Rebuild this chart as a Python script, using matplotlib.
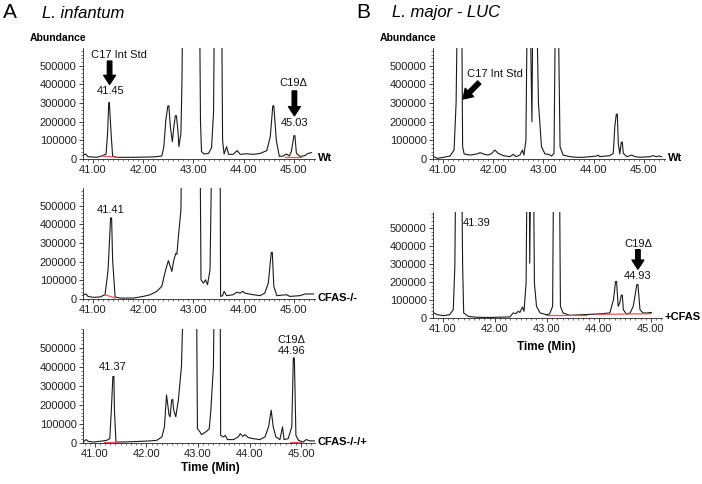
import matplotlib
matplotlib.use('Agg')
import matplotlib.pyplot as plt
from matplotlib.ticker import MultipleLocator, FormatStrFormatter

plt.rcParams['font.family'] = ['Liberation Sans', 'DejaVu Sans']

# --- data (time in min, abundance) ---
# off-scale peaks are given as 900000 and get clipped by the axes
inf_wt_t = [40.81, 40.85, 40.90, 41.07, 41.17, 41.26, 41.29, 41.31, 41.32, 41.33, 41.36, 41.39, 41.47, 41.80,
            42.20, 42.37, 42.41, 42.45, 42.49, 42.51, 42.54, 42.58, 42.61, 42.64, 42.66, 42.69, 42.71, 42.75,
            42.77, 42.79, 43.12, 43.14, 43.16, 43.21, 43.30, 43.36, 43.40, 43.42, 43.56, 43.58,
            43.61, 43.66, 43.70, 43.79, 43.87, 43.93, 44.06, 44.19, 44.33, 44.46, 44.53, 44.58, 44.60,
            44.65, 44.71, 44.79, 44.85, 44.91, 44.95, 45.00, 45.02, 45.05, 45.12, 45.22, 45.28, 45.35]
inf_wt_y = [21000, 27000, 12500, 9000, 16000, 27000, 138000, 280000, 303000, 280000, 138000, 16000, 9000, 9000,
            11000, 16000, 66000, 209000, 285000, 285000, 173000, 93000, 173000, 232000, 232000, 155000, 66000, 138000,
            400000, 900000, 900000, 200000, 40000, 27000, 30000, 60000, 250000, 900000, 900000, 100000,
            27000, 66000, 25000, 25000, 45000, 25000, 28000, 25000, 30000, 45000, 120000, 285000, 285000,
            100000, 14000, 16000, 27000, 16000, 40000, 125000, 125000, 30000, 14000, 18000, 30000, 34000]

inf_ko_t = [40.81, 40.86, 40.90, 41.00, 41.14, 41.24, 41.30, 41.35, 41.37, 41.39, 41.44, 41.54, 41.80,
            42.00, 42.14, 42.27, 42.37, 42.43, 42.50, 42.57, 42.61, 42.65, 42.67, 42.70, 42.75,
            42.77, 43.13, 43.15, 43.20, 43.24, 43.28, 43.33, 43.37, 43.53, 43.54, 43.58, 43.61,
            43.66, 43.79, 43.86, 43.93, 43.98, 44.02, 44.09, 44.19, 44.33, 44.42, 44.49, 44.55, 44.57,
            44.60, 44.66, 44.85, 44.92, 45.12, 45.22, 45.39]
inf_ko_y = [23000, 27000, 14000, 9000, 11000, 23000, 157000, 435000, 435000, 210000, 11000, 5000, 5000,
            14000, 23000, 41000, 68000, 139000, 206000, 148000, 210000, 245000, 240000, 335000, 477000,
            900000, 900000, 103000, 85000, 103000, 77000, 157000, 900000, 900000, 14000, 18000, 41000,
            18000, 23000, 36000, 32000, 41000, 32000, 28000, 23000, 18000, 32000, 85000, 250000, 250000,
            68000, 18000, 23000, 14000, 18000, 27000, 27000]

inf_add_t = [40.77, 40.83, 40.87, 40.97, 41.10, 41.23, 41.29, 41.32, 41.35, 41.37, 41.38, 41.41, 41.48,
             41.74, 42.07, 42.20, 42.30, 42.35, 42.39, 42.44, 42.46, 42.49, 42.51, 42.53, 42.57,
             42.62, 42.68, 42.73, 42.97, 42.99, 43.04, 43.07, 43.12, 43.17, 43.22, 43.25, 43.30,
             43.32, 43.43, 43.44, 43.49, 43.53, 43.57, 43.69, 43.78, 43.82, 43.87, 43.91, 43.98,
             44.07, 44.20, 44.30, 44.37, 44.42, 44.46, 44.51, 44.59, 44.64, 44.67, 44.75, 44.82,
             44.85, 44.87, 44.90, 44.95, 45.04, 45.10, 45.17, 45.27]
inf_add_y = [5000, 18000, 9000, 5000, 9000, 14000, 23000, 173000, 350000, 350000, 173000, 5000, 5000,
             7000, 11000, 14000, 32000, 85000, 253000, 147000, 138000, 226000, 230000, 173000, 138000,
             226000, 403000, 900000, 900000, 76000, 58000, 44000, 53000, 62000, 76000, 173000, 403000,
             900000, 900000, 40000, 32000, 40000, 18000, 18000, 32000, 49000, 35000, 44000, 28000,
             23000, 18000, 32000, 85000, 173000, 85000, 32000, 18000, 85000, 18000, 23000, 85000,
             448000, 448000, 40000, 14000, 5000, 18000, 11000, 11000]

maj_wt_t = [40.81, 40.89, 41.01, 41.14, 41.22, 41.26, 41.29, 41.37, 41.39, 41.42, 41.54, 41.67,
            41.74, 41.80, 41.90, 41.97, 42.03, 42.10, 42.20, 42.33, 42.40, 42.45, 42.53, 42.58,
            42.61, 42.65, 42.68, 42.73, 42.77, 42.79, 42.86, 42.90, 42.96, 43.03, 43.10, 43.16,
            43.21, 43.24, 43.29, 43.33, 43.39, 43.53, 43.66, 43.79, 43.93, 44.06, 44.09, 44.12,
            44.32, 44.39, 44.42, 44.45, 44.47, 44.49, 44.52, 44.55, 44.57, 44.59, 44.66, 44.76, 44.82, 44.92,
            45.12, 45.18, 45.25, 45.30, 45.35]
maj_wt_y = [12500, 3500, 9000, 16000, 48000, 300000, 900000, 900000, 66000, 27000, 21000, 27000,
            34000, 27000, 21000, 30000, 48000, 30000, 18000, 12500, 25000, 12500, 21000, 48000,
            21000, 100000, 900000, 900000, 200000, 900000, 900000, 300000, 66000, 27000, 25000, 16000,
            30000, 900000, 900000, 66000, 21000, 12500, 9000, 9000, 12500, 16000, 21000, 12500,
            18000, 30000, 173000, 240000, 240000, 84000, 27000, 90000, 90000, 30000, 12500, 21000, 12500, 9000,
            12500, 18000, 12500, 16000, 12500]

maj_add_t = [40.81, 40.89, 41.01, 41.13, 41.20, 41.23, 41.25, 41.36, 41.38, 41.40, 41.49, 41.65,
             41.90, 42.03, 42.29, 42.35, 42.40, 42.45, 42.48, 42.53, 42.56, 42.60, 42.62, 42.66,
             42.67, 42.69, 42.74, 42.76, 42.80, 42.87, 42.99, 43.05, 43.11, 43.13, 43.24, 43.26,
             43.31, 43.44, 43.70, 43.96, 44.21, 44.28, 44.32, 44.34, 44.37, 44.40, 44.43, 44.45, 44.47, 44.53,
             44.60, 44.66, 44.73, 44.75, 44.79, 44.85, 44.92, 45.01]
maj_add_y = [31000, 18500, 13000, 18500, 46000, 287000, 900000, 900000, 287000, 28000, 9000, 4000,
             3000, 4000, 6000, 28000, 24000, 37000, 31000, 61000, 37000, 194000, 900000, 900000,
             305000, 900000, 900000, 194000, 65000, 28000, 18500, 22000, 65000, 900000, 900000, 65000,
             28000, 15000, 18500, 22000, 28000, 102000, 203000, 203000, 65000, 83000, 127000, 127000, 46000, 22000,
             28000, 65000, 186000, 186000, 46000, 28000, 28000, 31000]

# red integration baselines: (t0, t1, y0, y1)
inf_wt_red = [(41.17, 41.48, 16000, 9000), (44.82, 45.15, 12000, 12000)]
inf_ko_red = [(41.24, 41.44, 23000, 5000)]
inf_add_red = [(41.17, 41.42, 5000, 5000), (44.78, 45.00, 5000, 5000)]
maj_add_red = [(42.99, 43.75, 18500, 18500), (43.95, 45.00, 20000, 24000)]

y_ticks = [0, 100000, 200000, 300000, 400000, 500000]
x_ticks = [41.0, 42.0, 43.0, 44.0, 45.0]

fig = plt.figure(figsize=(7.02, 4.84), dpi=100)

def draw_panel(rect, t, y, xlim, ylim, sample, reds):
    ax = fig.add_axes(rect)
    ax.plot(t, y, color='#1a1a1a', lw=0.8)
    for t0, t1, y0, y1 in reds:
        ax.plot([t0, t1], [y0, y1], color='#e8554e', lw=0.9)
    ax.set_xlim(*xlim)
    ax.set_ylim(*ylim)
    ax.set_xticks(x_ticks)
    ax.xaxis.set_major_formatter(FormatStrFormatter('%.2f'))
    ax.set_yticks(y_ticks)
    ax.set_yticklabels([str(v) for v in y_ticks])
    ax.xaxis.set_minor_locator(MultipleLocator(0.1))
    ax.yaxis.set_minor_locator(MultipleLocator(20000))
    ax.tick_params(which='major', length=3, width=0.6, labelsize=8, pad=1.5, colors='#222')
    ax.tick_params(which='minor', length=1.5, width=0.5, colors='#444')
    for s in ['top', 'right']:
        ax.spines[s].set_visible(False)
    for s in ['left', 'bottom']:
        ax.spines[s].set_linewidth(0.6)
        ax.spines[s].set_color('#222')
    ax.patch.set_alpha(0)
    ax.text(1.012, 0.01, sample, transform=ax.transAxes, fontsize=8,
            fontweight='bold', va='center', ha='left')
    return ax

def arrow(ax, tail, tip):
    ax.annotate('', xy=tip, xytext=tail,
                arrowprops=dict(arrowstyle='simple,head_length=0.65,head_width=0.85,tail_width=0.32',
                                fc='black', ec='black', shrinkA=0, shrinkB=0),
                annotation_clip=False)

def note(ax, x, y, s):
    ax.text(x, y, s, fontsize=8, ha='center', va='center', color='#111')

ax1 = draw_panel([0.1182, 0.6715, 0.3305, 0.2293], inf_wt_t, inf_wt_y,
                 (40.80, 45.42), (0, 595000), 'Wt', inf_wt_red)
note(ax1, 41.52, 557000, 'C17 Int Std')
arrow(ax1, (41.33, 525000), (41.33, 400000))
note(ax1, 41.34, 364000, '41.45')
note(ax1, 44.99, 405000, 'C19\u0394')
arrow(ax1, (45.01, 365000), (45.01, 232000))
note(ax1, 45.01, 193000, '45.03')

ax2 = draw_panel([0.1182, 0.3822, 0.3305, 0.2293], inf_ko_t, inf_ko_y,
                 (40.80, 45.42), (0, 595000), 'CFAS-/-', inf_ko_red)
note(ax2, 41.36, 477000, '41.41')

ax3 = draw_panel([0.1182, 0.0847, 0.3305, 0.2355], inf_add_t, inf_add_y,
                 (40.77, 45.27), (0, 600000), 'CFAS-/-/+', inf_add_red)
note(ax3, 41.35, 400000, '41.37')
note(ax3, 44.82, 543000, 'C19\u0394')
note(ax3, 44.82, 485000, '44.96')

ax4 = draw_panel([0.6168, 0.6715, 0.3305, 0.2293], maj_wt_t, maj_wt_y,
                 (40.80, 45.42), (0, 595000), 'Wt', [])
note(ax4, 42.03, 455000, 'C17 Int Std')
arrow(ax4, (41.72, 410000), (41.40, 322000))

ax5 = draw_panel([0.6168, 0.343, 0.326, 0.219], maj_add_t, maj_add_y,
                 (40.81, 45.21), (0, 590000), '+CFAS', maj_add_red)
note(ax5, 41.65, 528000, '41.39')
note(ax5, 44.76, 411000, 'C19\u0394')
arrow(ax5, (44.75, 380000), (44.75, 272000))
note(ax5, 44.75, 233000, '44.93')

# --- titles and axis captions ---
fig.text(3 / 702, 1 - 13 / 484, 'A', fontsize=15, va='center', ha='left')
fig.text(42 / 702, 1 - 13 / 484, 'L. infantum', fontsize=12, style='italic', va='center', ha='left')
fig.text(356 / 702, 1 - 13 / 484, 'B', fontsize=15, va='center', ha='left')
fig.text(392 / 702, 1 - 13 / 484, 'L. major - LUC', fontsize=12, style='italic', va='center', ha='left')
fig.text(86 / 702, 1 - 38 / 484, 'Abundance', fontsize=7.5, fontweight='bold', va='center', ha='right')
fig.text(436 / 702, 1 - 38 / 484, 'Abundance', fontsize=7.5, fontweight='bold', va='center', ha='right')
fig.text(210 / 702, 1 - 468 / 484, 'Time (Min)', fontsize=8.5, fontweight='bold', va='center', ha='center')
fig.text(546 / 702, 1 - 347 / 484, 'Time (Min)', fontsize=8.5, fontweight='bold', va='center', ha='center')

fig.savefig('out.png', dpi=100)
plt.close(fig)
